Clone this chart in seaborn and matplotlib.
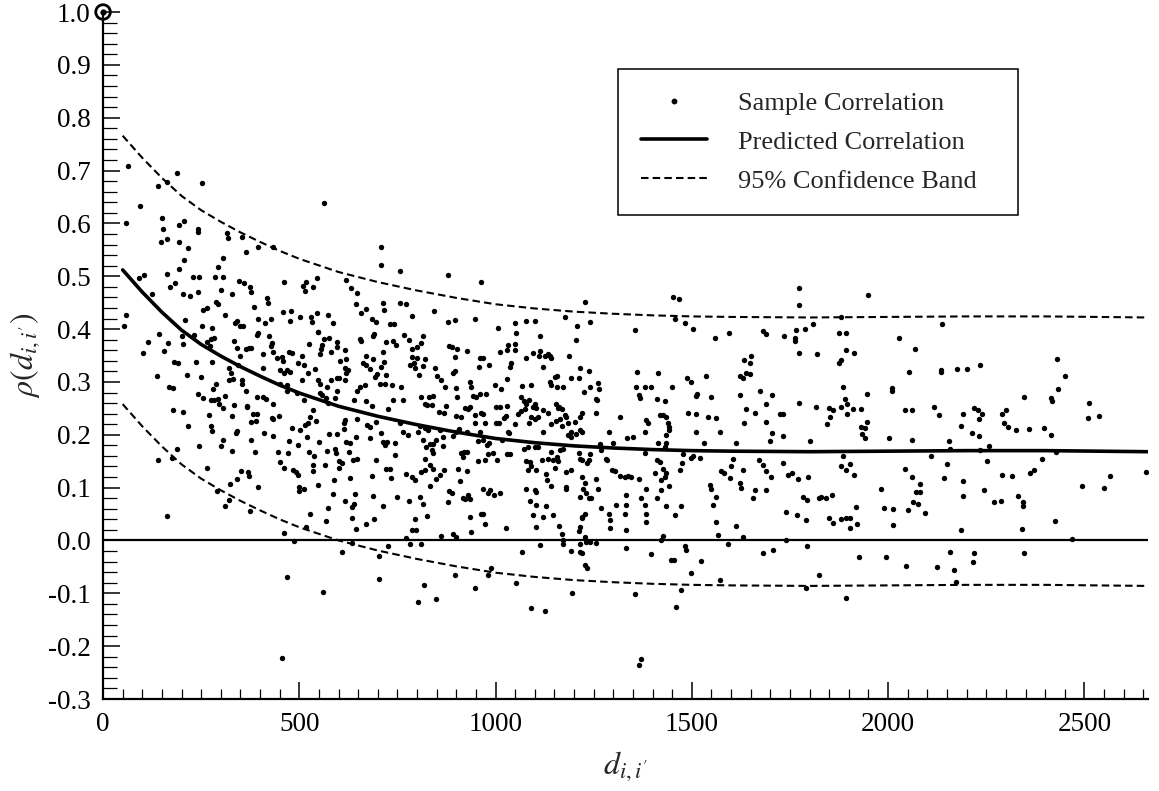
import matplotlib
matplotlib.use("Agg")
import matplotlib.pyplot as plt
from matplotlib.lines import Line2D
from matplotlib.ticker import MultipleLocator, FormatStrFormatter
import seaborn as sns
import pandas as pd

# ---------------- data ----------------
# predicted correlation curve and 95% band
curve_d = [50, 100, 150, 200, 250, 300, 350, 400, 450, 500, 600, 700, 800, 900, 1000,
           1100, 1200, 1300, 1400, 1500, 1600, 1800, 2000, 2200, 2400, 2660]
pred_rho = [0.512, 0.470, 0.432, 0.398, 0.371, 0.349, 0.329, 0.311, 0.294, 0.279, 0.254,
            0.235, 0.219, 0.205, 0.193, 0.185, 0.179, 0.175, 0.172, 0.170, 0.169, 0.168,
            0.169, 0.170, 0.170, 0.168]
upper_rho = [0.766, 0.724, 0.686, 0.652, 0.625, 0.603, 0.583, 0.565, 0.548, 0.533, 0.508,
             0.489, 0.473, 0.459, 0.447, 0.439, 0.433, 0.429, 0.426, 0.424, 0.423, 0.422,
             0.423, 0.424, 0.424, 0.422]
lower_rho = [0.258, 0.216, 0.178, 0.144, 0.117, 0.095, 0.075, 0.057, 0.040, 0.025, 0.000,
             -0.019, -0.035, -0.049, -0.061, -0.069, -0.075, -0.079, -0.082, -0.084, -0.085,
             -0.086, -0.085, -0.084, -0.084, -0.086]

origin_d = [0]
origin_rho = [1.0]

# sample correlations (distance, rho), grouped by region of the chart
pts_near_high = [
(63,0.709),(59,0.600),(94,0.632),(141,0.671),(164,0.678),(189,0.696),(251,0.676),(149,0.611),(153,0.589),(148,0.564),
(162,0.570),(194,0.597),(206,0.605),(193,0.565),(217,0.554),(241,0.589),(243,0.584),(206,0.531),(194,0.514),(162,0.505),
(183,0.488),(170,0.480),(92,0.496),(105,0.502),(124,0.466),(59,0.427),(53,0.406),(204,0.466),(221,0.463),(228,0.499),
(245,0.499),(243,0.471),(294,0.518),(306,0.535),(285,0.499),(305,0.499),(300,0.474),(289,0.452),(294,0.447),(328,0.466),
(311,0.427),(254,0.437),(266,0.440),(347,0.491),(360,0.487),(374,0.479),(378,0.470),(364,0.545),(315,0.581),(319,0.573),
(353,0.575),(395,0.555),(432,0.556),(384,0.441),(417,0.459),(421,0.449),(395,0.420),(412,0.411),(428,0.420),(462,0.490),
(459,0.432),(480,0.434),(476,0.415),(501,0.422),(510,0.482),(518,0.490),(514,0.472),(535,0.479),(546,0.496),(563,0.638),
(573,0.427),(531,0.422),(546,0.430),(532,0.414),(547,0.395),(586,0.411),(620,0.493),(631,0.478),(648,0.469),(645,0.447),
(669,0.438),(656,0.430),(684,0.420),(695,0.413),(708,0.556),(708,0.521),(714,0.449),(716,0.437),(732,0.409),(742,0.409),
(143,0.390),(115,0.375),(103,0.355),(166,0.374),(156,0.359),(137,0.312),(181,0.338),(192,0.336),(168,0.291),(179,0.289),
(200,0.387),(204,0.372),(209,0.418),(213,0.313),(232,0.389),(238,0.337),(249,0.310),(251,0.405),(278,0.403),(266,0.376),
(275,0.381),(283,0.384),(273,0.368),(277,0.338),(289,0.297),(279,0.287),(320,0.304),(332,0.305),(325,0.317),(322,0.326),
(334,0.378),(340,0.364),(342,0.416),(336,0.411),(349,0.406),(357,0.406),(364,0.363),(373,0.364),(378,0.365),(349,0.350),
(345,0.332),(355,0.304),(353,0.297),(391,0.389),(395,0.393),(408,0.353),(408,0.326),(423,0.387),(431,0.373),(434,0.357),
(428,0.368),(442,0.345),(455,0.348),(458,0.340),(451,0.322),(468,0.322),(476,0.319),(461,0.317),(474,0.357),(482,0.354),
(497,0.336),(506,0.350),(512,0.332),(523,0.317),(525,0.372),(540,0.324),(547,0.394),(552,0.353),(555,0.362),(559,0.370),
(563,0.382),(576,0.384),(582,0.357),(595,0.375),(597,0.367),(603,0.340),(616,0.360),(618,0.343),(616,0.326),(624,0.322),
(620,0.316),(654,0.381),(657,0.378),(671,0.350),(663,0.335),(671,0.332),(680,0.324),(691,0.390),(687,0.386),(688,0.343),
(698,0.315),(693,0.310),(708,0.329),(714,0.357),(720,0.375),(715,0.338),(721,0.314),(739,0.377),(746,0.369),(451,0.297),
(468,0.294),(508,0.304),(548,0.304),(553,0.297),(570,0.290),(582,0.304),(595,0.307),(602,0.308),(616,0.304),(668,0.294),
(705,0.297),(718,0.297),(735,0.295),(654,0.290),
]

pts_near_low = [
(243,0.277),(254,0.269),(275,0.266),(283,0.266),(294,0.268),(296,0.258),(306,0.251),(311,0.273),(334,0.256),(363,0.282),
(368,0.255),(366,0.252),(393,0.271),(408,0.271),(414,0.267),(434,0.258),(432,0.229),(430,0.231),(448,0.236),(177,0.247),
(203,0.244),(217,0.217),(270,0.237),(275,0.217),(277,0.208),(328,0.236),(340,0.208),(339,0.204),(376,0.225),(383,0.239),
(391,0.239),(390,0.227),(411,0.204),(434,0.198),(468,0.282),(493,0.280),(512,0.266),(482,0.213),(502,0.209),(514,0.219),
(523,0.222),(527,0.233),(534,0.247),(542,0.227),(552,0.279),(559,0.275),(568,0.270),(572,0.261),(591,0.270),(597,0.283),
(616,0.228),(614,0.222),(646,0.282),(639,0.265),(646,0.229),(671,0.263),(684,0.255),(673,0.219),(680,0.214),(695,0.225),
(739,0.266),(727,0.249),(244,0.178),(264,0.138),(300,0.178),(306,0.190),(328,0.169),(378,0.190),(388,0.167),(351,0.132),
(370,0.130),(373,0.122),(342,0.116),(323,0.106),(291,0.094),(311,0.065),(322,0.077),(374,0.055),(395,0.102),(140,0.152),
(176,0.157),(188,0.174),(164,0.047),(446,0.168),(452,0.149),(462,0.137),(472,0.165),(473,0.188),(483,0.133),(491,0.130),
(496,0.124),(499,0.102),(499,0.094),(513,0.097),(497,0.181),(519,0.196),(524,0.167),(538,0.160),(536,0.143),(534,0.131),
(551,0.187),(565,0.143),(570,0.169),(576,0.201),(592,0.174),(593,0.165),(595,0.201),(602,0.138),(602,0.150),(609,0.146),
(614,0.210),(620,0.187),(629,0.184),(627,0.167),(636,0.153),(646,0.155),(644,0.196),(680,0.193),(695,0.153),(708,0.203),
(714,0.187),(718,0.181),(724,0.187),(743,0.184),(743,0.162),(589,0.115),(548,0.105),(586,0.087),(574,0.061),(616,0.075),
(629,0.118),(642,0.087),(639,0.069),(633,0.064),(684,0.122),(687,0.084),(714,0.066),(722,0.135),(733,0.118),(731,0.135),
(748,0.083),(635,0.043),(644,0.022),(671,0.031),(691,0.041),(569,0.037),(527,0.051),(516,0.026),(462,0.015),(487,-0.001),
(608,-0.022),(635,-0.005),(704,-0.029),(726,-0.010),(468,-0.069),(561,-0.097),(704,-0.072),(456,-0.222),
]

pts_mid = [
(756,0.509),(756,0.449),(773,0.447),(786,0.425),(766,0.389),(780,0.379),(788,0.362),(800,0.367),(809,0.373),(814,0.387),
(786,0.348),(800,0.346),(820,0.343),(792,0.335),(781,0.332),(794,0.326),(805,0.313),(814,0.331),
(760,0.290),(764,0.266),(811,0.271),(820,0.259),(826,0.256),(831,0.272),(841,0.273),(838,0.256),
(756,0.223),(764,0.206),(807,0.216),(820,0.212),(803,0.206),(828,0.209),(777,0.199),(814,0.190),(824,0.177),(834,0.182),
(837,0.171),(841,0.166),(820,0.155),(832,0.143),(841,0.136),(773,0.126),(788,0.121),(794,0.114),(811,0.130),(821,0.134),
(780,0.075),(807,0.083),(814,0.069),(834,0.103),(826,0.046),(794,0.040),(786,0.020),(798,0.020),(773,0.004),(781,-0.006),
(809,-0.006),(817,-0.084),(803,-0.116),(848,-0.111),
(879,0.502),(843,0.434),(879,0.414),(896,0.418),(902,0.362),(926,0.359),(882,0.368),(888,0.367),
(896,0.348),(845,0.327),(851,0.311),(860,0.304),(871,0.291),(896,0.321),(892,0.316),(899,0.288),(934,0.300),(938,0.291),
(856,0.244),(869,0.242),(873,0.254),(902,0.272),(899,0.235),(913,0.234),(921,0.250),(930,0.248),(936,0.253),(858,0.209),
(866,0.196),(892,0.197),(900,0.206),(907,0.210),(926,0.206),
(841,0.182),(849,0.190),(866,0.179),(913,0.165),(917,0.158),(919,0.168),(926,0.168),(905,0.136),(926,0.132),(858,0.124),
(849,0.116),(868,0.133),(909,0.112),
(882,0.094),(888,0.090),(917,0.081),(921,0.078),(930,0.086),(934,0.078),(879,0.073),(862,0.008),(892,0.013),(900,0.006),
(896,-0.066),(934,0.044),(947,-0.089),(938,0.016),
(962,0.490),(947,0.419),(1006,0.403),(960,0.345),(968,0.346),(958,0.328),(983,0.332),(951,0.272),(943,0.273),(960,0.277),
(975,0.277),(947,0.237),(964,0.242),(968,0.239),(1011,0.357),(1032,0.370),(1028,0.360),(998,0.294),(1015,0.287),(1028,0.305),
(947,0.223),(972,0.222),(960,0.206),(955,0.189),(968,0.190),(978,0.180),(983,0.185),(1002,0.253),(1011,0.253),(1028,0.254),
(1000,0.223),(1009,0.223),(1021,0.231),(1026,0.235),(1032,0.206),
(955,0.151),(972,0.152),(981,0.163),(994,0.165),(1004,0.153),(1017,0.191),(1028,0.164),(1036,0.164),(985,0.095),(981,0.090),
(996,0.086),(968,0.098),(1011,0.089),(1026,0.023),(964,0.051),(968,0.050),(972,0.031),
(989,-0.053),(981,-0.066),(1051,-0.080),
(1049,0.412),(1053,0.392),(1049,0.372),(1049,0.360),(1078,0.416),(1100,0.415),(1078,0.346),(1095,0.355),(1111,0.349),(1114,0.386),
(1121,0.329),(1112,0.359),(1125,0.349),(1134,0.353),(1138,0.349),
(1040,0.335),(1036,0.329),(1068,0.292),(1091,0.294),(1066,0.272),(1073,0.263),(1085,0.266),(1077,0.258),(1095,0.253),(1100,0.259),
(1104,0.250),(1057,0.240),(1066,0.245),(1074,0.248),(1091,0.234),(1085,0.223),(1100,0.229),(1108,0.234),(1049,0.220),(1034,0.204),
(1072,0.174),(1083,0.177),(1100,0.177),(1108,0.176),(1077,0.151),(1087,0.149),(1091,0.141),(1104,0.134),(1083,0.133),(1117,0.152),
(1134,0.155),(1146,0.152),(1078,0.097),(1100,0.095),(1104,0.092),(1087,0.075),(1104,0.067),(1129,0.065),(1095,0.048),(1121,0.045),
(1104,0.026),(1112,-0.009),(1068,-0.021),(1091,-0.127),(1125,-0.133),
(1142,0.346),(1151,0.310),(1157,0.311),(1142,0.294),(1157,0.291),(1172,0.290),(1138,0.300),(1153,0.258),(1159,0.250),(1162,0.253),
(1170,0.248),(1176,0.237),(1180,0.233),(1165,0.229),(1155,0.227),(1142,0.221),(1168,0.216),(1185,0.222),(1191,0.206),
(1121,0.247),(1134,0.242),(1121,0.206),(1157,0.158),(1159,0.151),(1151,0.138),(1163,0.171),(1172,0.174),(1142,0.168),
(1129,0.126),(1131,0.114),(1142,0.103),(1179,0.130),(1180,0.097),(1193,0.134),(1179,0.102),
(1146,0.048),(1162,0.027),(1168,0.013),(1172,0.001),(1172,-0.006),(1214,0.083),
(1191,-0.020),(1195,-0.100),(1214,-0.021),(1219,-0.024),(1214,-0.006),(1213,0.017),(1216,0.026),(1219,0.045),(1227,0.007),(1231,-0.002),
(1176,0.423),(1207,0.405),(1206,0.379),(1187,0.349),(1214,0.326),(1238,0.321),(1191,0.307),(1213,0.307),(1225,0.281),(1240,0.291),
(1261,0.298),(1263,0.286),(1257,0.268),(1258,0.266),(1257,0.242),(1219,0.242),(1214,0.234),(1219,0.206),(1204,0.201),(1214,0.209),
(1202,0.225),(1185,0.199),(1193,0.196),
(1212,0.165),(1214,0.155),(1221,0.153),(1240,0.163),(1237,0.153),(1233,0.146),(1221,0.121),(1227,0.108),(1223,0.097),(1237,0.080),
(1230,0.089),(1244,0.080),(1227,0.051),(1221,0.042),(1255,0.116),(1261,0.098),
(1227,-0.047),(1233,-0.053),(1240,-0.002),(1257,-0.004),
(1265,0.182),(1269,0.171),(1282,0.155),(1289,0.206),(1299,0.185),(1303,0.132),(1297,0.134),(1284,0.153),
(1269,0.062),(1289,0.051),(1291,0.039),(1291,0.023),(1306,0.067),(1316,0.122),(1329,0.121),(1337,0.122),(1346,0.121),(1365,0.117),
(1333,0.086),(1331,0.067),(1329,0.051),(1331,0.020),(1333,-0.015),
(1316,0.233),(1336,0.193),(1350,0.196),(1359,0.318),(1357,0.291),(1365,0.275),(1369,0.269),(1380,0.291),(1397,0.291),(1384,0.228),
(1388,0.223),(1380,0.206),(1414,0.317),(1411,0.267),(1431,0.264),(1420,0.237),(1426,0.237),(1433,0.234),(1439,0.222),(1443,0.214),
(1442,0.209),(1435,0.199),(1414,0.185),(1431,0.177),(1433,0.185),
(1380,0.165),(1411,0.152),(1418,0.149),(1426,0.136),(1405,0.128),(1431,0.121),(1422,0.114),(1435,0.127),(1422,0.095),(1443,0.103),
(1384,0.097),(1371,0.080),(1380,0.067),(1384,0.051),(1382,0.035),(1410,0.080),(1435,0.065),(1426,0.008),(1422,0.001),(1456,0.048),
(1473,0.065),(1448,-0.037),(1454,-0.037),(1459,-0.125),(1473,-0.093),(1499,-0.061),(1524,-0.038),(1482,-0.011),(1486,-0.018),
(1397,-0.025),(1356,-0.102),(1365,-0.235),(1370,-0.225),
(1452,0.461),(1467,0.456),(1229,0.451),(1240,0.414),(1354,0.398),(1456,0.420),(1482,0.412),(1504,0.401),(1450,0.291),
]

pts_far = [
(1488,0.307),(1499,0.300),(1513,0.278),(1510,0.273),(1550,0.272),(1537,0.311),(1558,0.384),(1595,0.393),(1490,0.242),(1511,0.240),
(1541,0.234),(1562,0.231),(1572,0.206),(1511,0.206),(1530,0.184),(1503,0.160),(1499,0.157),(1520,0.157),(1476,0.147),(1469,0.134),
(1477,0.164),(1545,0.105),(1550,0.097),(1562,0.083),(1554,0.068),(1562,0.035),(1567,0.010),(1592,-0.007),(1575,0.132),(1583,0.128),
(1596,0.119),(1600,0.140),(1605,0.155),(1613,0.185),(1622,0.108),(1630,0.133),(1624,0.100),(1656,0.080),(1662,0.095),(1630,0.007),
(1613,0.027),(1572,-0.075),(1681,-0.024),(1707,-0.018),(1690,0.095),(1671,0.152),(1681,0.143),(1690,0.132),(1702,0.121),(1698,0.189),
(1705,0.204),(1732,0.198),(1724,0.239),(1732,0.239),(1690,0.225),(1705,0.275),(1690,0.259),(1674,0.282),(1660,0.242),(1632,0.222),
(1639,0.248),(1622,0.276),(1630,0.307),(1623,0.311),(1637,0.316),(1647,0.335),(1651,0.349),(1632,0.341),(1647,0.315),(1681,0.396),
(1688,0.391),(1734,0.387),(1762,0.384),(1764,0.377),(1766,0.398),(1787,0.401),(1774,0.446),(1774,0.477),(1774,0.354),(1808,0.410),
(1819,0.353),(1774,0.261),(1817,0.253),(1849,0.250),(1859,0.247),(1851,0.234),(1844,0.220),(1802,0.189),(1732,0.147),(1745,0.124),
(1756,0.127),(1770,0.117),(1796,0.121),(1783,0.083),(1793,0.076),(1824,0.080),(1830,0.083),(1841,0.081),(1857,0.086),(1740,0.054),
(1768,0.049),(1791,0.039),(1849,0.043),(1859,0.034),(1880,0.040),(1893,0.042),(1739,0.001),(1793,-0.011),(1825,-0.066),(1791,-0.089),
(1893,-0.108),(1880,0.141),(1892,0.133),(1885,0.160),(1876,0.335),(1880,0.341),(1876,0.392),(1892,0.392),(1892,0.360),(1885,0.290),
(1889,0.268),(1880,0.253),(1895,0.258),(1895,0.239),(1880,0.423),
(1950,0.464),(1912,0.354),(1947,0.277),(1910,0.248),(1932,0.249),(1947,0.225),(1930,0.215),(1940,0.212),(1934,0.201),(1940,0.193),
(1904,0.145),(1912,0.123),(1917,0.063),(1921,0.032),(1902,0.042),(1902,0.023),(1927,-0.032),(1994,-0.032),(2027,0.384),(2068,0.362),
(2053,0.319),(2011,0.288),(2011,0.282),(2042,0.247),(2061,0.246),(2001,0.193),(2061,0.191),(2042,0.136),(2062,0.121),(2080,0.106),
(2072,0.091),(2082,0.092),(2063,0.073),(2076,0.069),(2051,0.057),(2095,0.052),(1983,0.097),(1989,0.062),(2012,0.060),(2012,0.030),
(2045,-0.048),(2118,0.253),(2129,0.238),(2137,0.409),(2134,0.323),(2135,0.318),(2175,0.325),(2201,0.324),(2233,0.332),(2110,0.160),
(2155,0.188),(2158,0.174),(2151,0.144),(2142,0.119),(2192,0.239),(2186,0.217),(2214,0.203),(2231,0.198),(2220,0.250),(2229,0.246),
(2239,0.240),(2231,0.230),(2235,0.171),(2257,0.179),(2252,0.150),(2192,0.112),(2192,0.085),(2243,0.095),(2185,0.020),(2124,-0.050),
(2157,-0.022),(2168,-0.056),(2172,-0.078),(2216,-0.040),(2220,-0.023),(2269,0.073),(2287,0.074),(2290,0.239),(2301,0.247),(2294,0.223),
(2305,0.215),(2325,0.209),(2358,0.211),(2397,0.212),(2414,0.199),(2346,0.272),(2290,0.124),(2315,0.122),(2361,0.128),(2371,0.133),
(2393,0.155),(2331,0.085),(2343,0.072),(2343,0.066),(2341,0.022),(2345,-0.023),(2415,0.269),(2417,0.263),(2429,0.343),(2450,0.311),
(2433,0.287),(2428,0.168),(2426,0.037),(2469,0.002),(2494,0.104),(2511,0.261),(2509,0.231),(2537,0.235),(2550,0.099),(2566,0.122),
(2656,0.129),
]

legend_labels = ["Sample Correlation", "Predicted Correlation", "95% Confidence Band"]
x_ticks = [0, 500, 1000, 1500, 2000, 2500]

# ---------------- assemble ----------------
all_pts = pts_near_high + pts_near_low + pts_mid + pts_far
samples = pd.DataFrame(all_pts, columns=["d", "rho"])
curve = pd.DataFrame({"d": curve_d, "pred": pred_rho, "upper": upper_rho, "lower": lower_rho})

# ---------------- style ----------------
sns.set_style("ticks")
plt.rcParams["font.family"] = ["Liberation Serif", "DejaVu Serif"]
plt.rcParams["mathtext.fontset"] = "stix"
plt.rcParams["axes.unicode_minus"] = False

fig = plt.figure(figsize=(11.59, 7.91), dpi=100)
ax = fig.add_axes([0.0889, 0.1163, 0.9016, 0.8685])

dash = (0, (3.6, 2.0))
sns.scatterplot(data=samples, x="d", y="rho", s=15, color="black", linewidth=0,
                marker="o", ax=ax, zorder=3, legend=False)
sns.lineplot(data=curve, x="d", y="pred", color="black", linewidth=2.6, ax=ax,
             sort=False, estimator=None, zorder=4)
sns.lineplot(data=curve, x="d", y="upper", color="black", linewidth=1.5, ax=ax,
             sort=False, estimator=None, linestyle=dash, zorder=4)
sns.lineplot(data=curve, x="d", y="lower", color="black", linewidth=1.5, ax=ax,
             sort=False, estimator=None, linestyle=dash, zorder=4)
ax.axhline(0.0, color="black", linewidth=1.6, zorder=2)

# sample at zero distance: open circle with a dot
ax.scatter(origin_d, origin_rho, s=110, facecolors="none", edgecolors="black",
           linewidths=2.0, clip_on=False, zorder=6)
ax.scatter(origin_d, origin_rho, s=12, color="black", clip_on=False, zorder=6)

# axes
ax.set_xlim(0, 2662)
ax.set_ylim(-0.3, 1.0)
for side in ["top", "right"]:
    ax.spines[side].set_visible(False)
for side in ["left", "bottom"]:
    ax.spines[side].set_linewidth(1.6)
    ax.spines[side].set_color("black")

ax.set_xticks(x_ticks)
ax.xaxis.set_minor_locator(MultipleLocator(50))
ax.yaxis.set_major_locator(MultipleLocator(0.1))
ax.yaxis.set_minor_locator(MultipleLocator(0.02))
ax.yaxis.set_major_formatter(FormatStrFormatter("%.1f"))

ax.tick_params(axis="both", which="major", direction="in", length=12.5, width=1.1,
               labelsize=19.5, color="black", labelcolor="black")
ax.tick_params(axis="x", which="major", pad=9)
ax.tick_params(axis="y", which="major", pad=9)
ax.tick_params(axis="x", which="minor", direction="in", length=7.5, width=0.9, color="black")
ax.tick_params(axis="y", which="minor", direction="in", length=10, width=0.9, color="black")
ax.tick_params(top=False, right=False, which="both")

ax.set_xlabel(r"$d_{i,i'}$", fontsize=23, labelpad=9)
ax.set_ylabel(r"$\rho(d_{i,i'})$", fontsize=23, labelpad=4)

handles = [
    Line2D([], [], marker="o", markersize=3.2, linestyle="none", color="black"),
    Line2D([], [], color="black", linewidth=2.6),
    Line2D([], [], color="black", linewidth=1.5, linestyle=dash),
]
leg = ax.legend(handles, legend_labels, loc="upper left",
                bbox_to_anchor=(0.493, 0.907, 0.383, 0.01), mode="expand",
                prop={"family": "Liberation Serif", "size": 19}, frameon=True,
                fancybox=False, shadow=False, handlelength=2.5, handletextpad=1.2,
                borderpad=0.85, labelspacing=0.58, borderaxespad=0.0)
leg.get_frame().set_edgecolor("black")
leg.get_frame().set_linewidth(1.1)
leg.get_frame().set_facecolor("white")
leg.get_frame().set_alpha(1.0)

fig.savefig("out.png", dpi=100)
